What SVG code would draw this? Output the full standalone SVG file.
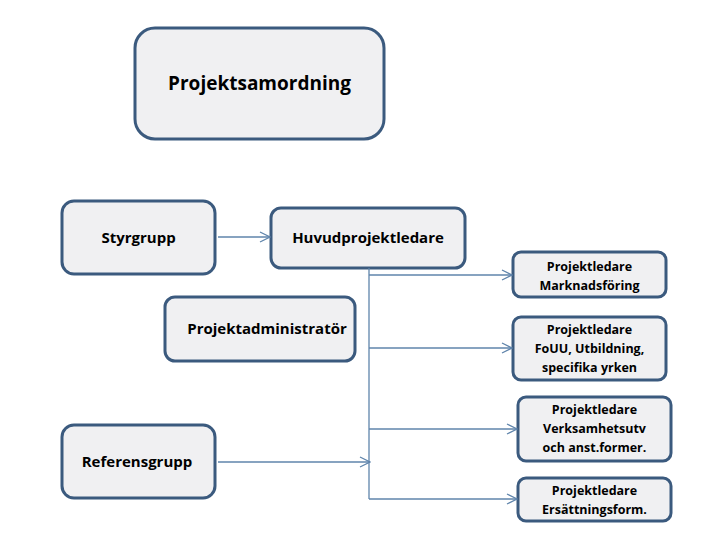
<svg xmlns="http://www.w3.org/2000/svg" width="708" height="538" viewBox="0 0 708 538">
<style>
.b{fill:#f0f0f2;stroke:#3b5a7e;stroke-width:3}
.t{font-family:"Open Sans","Liberation Sans",sans-serif;font-weight:bold;fill:#000;text-anchor:middle}
.m{font-size:15px}.s{font-size:12.5px}
.c{fill:none;stroke:#5f84ab;stroke-width:1.3}
</style>
<defs><marker id="a" markerWidth="12" markerHeight="12" refX="11" refY="6" orient="auto" markerUnits="userSpaceOnUse"><path d="M1,1 L11,6 L1,11" fill="none" stroke="#5f84ab" stroke-width="1.3"/></marker></defs>
<rect width="708" height="538" fill="#fff"/>
<g id="projektsamordning"><rect class="b" x="135" y="28" width="249" height="111" rx="20"/><text class="t" x="259.5" y="90" font-size="19">Projektsamordning</text></g>
<g id="styrgrupp"><rect class="b" x="62" y="201" width="153" height="73" rx="12"/><text class="t m" x="138.5" y="243">Styrgrupp</text></g>
<g id="huvud"><rect class="b" x="271" y="208" width="194" height="60" rx="10"/><text class="t m" x="368" y="243">Huvudprojektledare</text></g>
<g id="admin"><rect class="b" x="165" y="297" width="190" height="64" rx="10"/><text class="t m" x="267" y="334">Projektadministratör</text></g>
<g id="referens"><rect class="b" x="62" y="425" width="153" height="73" rx="12"/><text class="t m" x="137" y="467">Referensgrupp</text></g>
<g id="pl1"><rect class="b" x="513" y="252" width="153" height="45" rx="8"/><text class="t s" x="589.5" y="271">Projektledare</text><text class="t s" x="589.5" y="290">Marknadsföring</text></g>
<g id="pl2"><rect class="b" x="513" y="317" width="153" height="63" rx="8"/><text class="t s" x="589.5" y="334">Projektledare</text><text class="t s" x="589.5" y="353">FoUU, Utbildning,</text><text class="t s" x="589.5" y="372">specifika yrken</text></g>
<g id="pl3"><rect class="b" x="518" y="397" width="153" height="64" rx="8"/><text class="t s" x="594.5" y="414">Projektledare</text><text class="t s" x="594.5" y="433">Verksamhetsutv</text><text class="t s" x="594.5" y="452">och anst.former.</text></g>
<g id="pl4"><rect class="b" x="518" y="478" width="153" height="43" rx="8"/><text class="t s" x="594.5" y="495">Projektledare</text><text class="t s" x="594.5" y="514">Ersättningsform.</text></g>
<g id="connectors">
<path class="c" d="M218,237 H270" marker-end="url(#a)"/>
<path class="c" d="M369,268 V499"/>
<path class="c" d="M369,275 H512" marker-end="url(#a)"/>
<path class="c" d="M369,348 H512" marker-end="url(#a)"/>
<path class="c" d="M369,429 H517" marker-end="url(#a)"/>
<path class="c" d="M369,499 H517" marker-end="url(#a)"/>
<path class="c" d="M218,462 H370" marker-end="url(#a)"/>
</g>
</svg>
